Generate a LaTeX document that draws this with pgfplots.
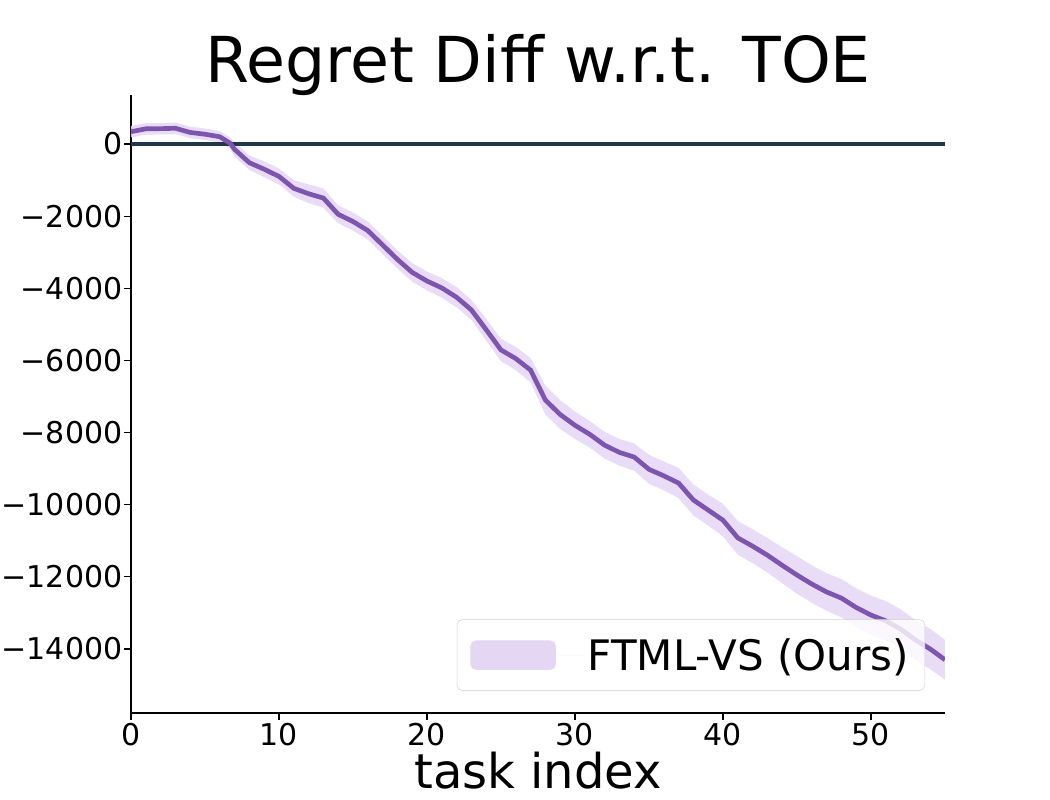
\documentclass[border=0pt]{standalone}
\usepackage{fontspec}
\setmainfont{DejaVu Sans}
\usepackage{pgfplots}
\pgfplotsset{compat=1.18}
\definecolor{lineP}{RGB}{125,85,175}
\definecolor{bandP}{RGB}{229,214,244}
\definecolor{zeroC}{RGB}{30,55,75}
\begin{document}
\begin{tikzpicture}
\begin{pgfinterruptboundingbox}
\begin{axis}[
  at={(0,0)}, anchor=south west,
  scale only axis, width=610.5pt, height=463.5pt,
  xmin=0, xmax=55, ymin=-15775, ymax=1358,
  scaled y ticks=false, scaled x ticks=false,
  axis x line*=bottom, axis y line*=left,
  axis line style={line width=0.9pt, black, -},
  xtick={0,10,20,30,40,50}, xticklabels={0,10,20,30,40,50},
  ytick={-14000,-12000,-10000,-8000,-6000,-4000,-2000,0},
  yticklabels={−14000,−12000,−10000,−8000,−6000,−4000,−2000,0},
  tick align=outside, major tick length=5pt,
  tick style={line width=0.9pt, black},
  ticklabel style={font=\fontsize{22.5}{26}\selectfont},
  xticklabel style={yshift=1pt},
  yticklabel style={xshift=2pt},
  xlabel={task index},
  xlabel style={font=\fontsize{36}{40}\selectfont, yshift=2pt},
  title={Regret Diff w.r.t. TOE},
  title style={font=\fontsize{47.5}{52}\selectfont, yshift=-10pt},
  legend style={at={(rel axis cs:0.9755,0.0356)}, anchor=south east,
    draw=black!18, rounded corners=4pt, fill=white, fill opacity=0.8, text opacity=1,
    font=\fontsize{31.5}{34}\selectfont, inner xsep=10pt, inner ysep=12pt},
  legend cell align=left,
  legend image code/.code={\fill[bandP, fill opacity=1] (0pt,-11pt) rectangle (64pt,11pt); \path (64pt,0) -- (86pt,0);},
]
\addplot[fill=bandP, fill opacity=0.85, draw=none] coordinates {
(0,500) (1,580) (2,585) (3,595) (4,480) (5,430) (6,360) (6.7,180) (7,50) (8,-320)
(9,-480) (10,-680) (11,-1000) (12,-1120) (13,-1230) (14,-1700) (15,-1900) (16,-2150)
(17,-2550) (18,-2950) (19,-3300) (20,-3540) (21,-3720) (22,-3970) (23,-4320) (24,-4850)
(25,-5400) (26,-5630) (27,-5930) (28,-6700) (29,-7100) (30,-7420) (31,-7680) (32,-7980)
(33,-8180) (34,-8300) (35,-8620) (36,-8800) (37,-8980) (38,-9440) (39,-9720) (40,-9980)
(41,-10450) (42,-10680) (43,-10920) (44,-11180) (45,-11430) (46,-11680) (47,-11900)
(48,-12060) (49,-12320) (50,-12520) (51,-12670) (52,-12900) (53,-13200) (54,-13440) (55,-13750)
(55,-14850) (54,-14560) (53,-14300) (52,-14000) (51,-13770) (50,-13600) (49,-13380) (48,-13120)
(47,-12940) (46,-12720) (45,-12470) (44,-12180) (43,-11880) (42,-11620) (41,-11390) (40,-10880)
(39,-10580) (38,-10300) (37,-9820) (36,-9600) (35,-9420) (34,-9060) (33,-8920) (32,-8720)
(31,-8420) (30,-8180) (29,-7900) (28,-7500) (27,-6610) (26,-6270) (25,-6020) (24,-5450)
(23,-4880) (22,-4530) (21,-4260) (20,-4060) (19,-3820) (18,-3450) (17,-3050) (16,-2650)
(15,-2400) (14,-2200) (13,-1770) (12,-1640) (11,-1460) (10,-1120) (9,-920) (8,-720)
(7,-350) (6.7,-140) (6,40) (5,110) (4,160) (3,275) (2,265) (1,260) (0,180)
} -- cycle;
\addlegendentry{FTML-VS (Ours)}
\addplot[zeroC, line width=3pt, forget plot] coordinates {(0,0) (55,0)};
\addplot[lineP, line width=3.5pt, forget plot] coordinates {
(0,340) (1,420) (2,425) (3,435) (4,320) (5,270) (6,200) (6.7,20) (7,-150) (8,-520)
(9,-700) (10,-900) (11,-1230) (12,-1380) (13,-1500) (14,-1950) (15,-2150) (16,-2400)
(17,-2800) (18,-3200) (19,-3560) (20,-3800) (21,-3990) (22,-4250) (23,-4600) (24,-5150)
(25,-5710) (26,-5950) (27,-6270) (28,-7100) (29,-7500) (30,-7800) (31,-8050) (32,-8350)
(33,-8550) (34,-8680) (35,-9020) (36,-9200) (37,-9400) (38,-9870) (39,-10150) (40,-10430)
(41,-10920) (42,-11150) (43,-11400) (44,-11680) (45,-11950) (46,-12200) (47,-12420)
(48,-12590) (49,-12850) (50,-13060) (51,-13220) (52,-13450) (53,-13750) (54,-14000) (55,-14300)
};
\end{axis}
\end{pgfinterruptboundingbox}
\path[use as bounding box] (-98.25pt,-65.25pt) rectangle (689.25pt,534.75pt);
\end{tikzpicture}
\end{document}
